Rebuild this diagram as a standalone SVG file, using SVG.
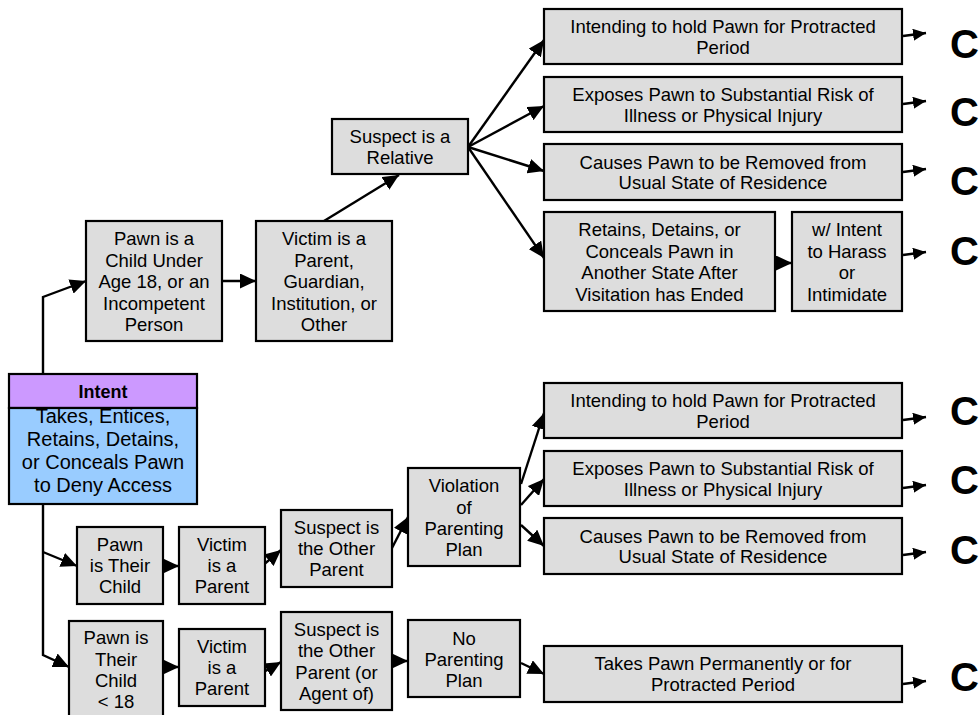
<svg xmlns="http://www.w3.org/2000/svg" width="980" height="715" viewBox="0 0 980 715">
  <style>
    .box { fill: #dddddd; stroke: #000; stroke-width: 2.2; }
    .hdr { fill: #cc99ff; stroke: #000; stroke-width: 2.2; }
    .body { fill: #99ccff; stroke: #000; stroke-width: 2.2; }
    text { font-family: "Liberation Sans", Arial, sans-serif; fill: #000; text-anchor: middle; }
    .t { font-size: 18.5px; }
    .tb { font-size: 20px; }
    .th { font-size: 18px; font-weight: bold; }
    .c { font-size: 40px; font-weight: bold; text-anchor: start; }
    .ln { fill: none; stroke: #000; stroke-width: 2.4; marker-end: url(#ah); }
    .lns { fill: none; stroke: #000; stroke-width: 2.4; marker-end: url(#ahs); }
  </style>
  <defs>
    <marker id="ah" markerUnits="userSpaceOnUse" markerWidth="16" markerHeight="15" refX="16" refY="7.5" orient="auto">
      <path d="M0,0 L16,7.5 L0,15 z" fill="#000"/>
    </marker>
    <marker id="ahs" markerUnits="userSpaceOnUse" markerWidth="13" markerHeight="12" refX="13" refY="6" orient="auto">
      <path d="M0,0 L13,6 L0,12 z" fill="#000"/>
    </marker>
  </defs>

  <!-- connectors -->
  <g id="connectors">
    <polyline class="ln" points="43,374 43,297 86,281"/>
    <line class="ln" x1="222" y1="281" x2="256" y2="281"/>
    <line class="ln" x1="324" y1="221" x2="399" y2="175"/>
    <line class="ln" x1="468" y1="147" x2="544" y2="40"/>
    <line class="ln" x1="468" y1="147" x2="544" y2="106"/>
    <line class="ln" x1="468" y1="147" x2="544" y2="171"/>
    <line class="ln" x1="468" y1="147" x2="544" y2="258"/>
    <line class="ln" x1="775" y1="263" x2="792" y2="263"/>

    <polyline class="ln" points="43,504 43,655 69,667"/>
    <line class="ln" x1="43" y1="552" x2="77" y2="566"/>
    <line class="ln" x1="163" y1="566" x2="179" y2="566"/>
    <line class="ln" x1="163" y1="667" x2="179" y2="667"/>
    <line class="ln" x1="262" y1="566" x2="281" y2="550"/>
    <line class="ln" x1="262" y1="673" x2="281" y2="662"/>
    <line class="ln" x1="392" y1="548" x2="408" y2="517"/>
    <line class="ln" x1="392" y1="661" x2="408" y2="661"/>
    <line class="ln" x1="521" y1="484" x2="544" y2="413"/>
    <line class="ln" x1="521" y1="505" x2="544" y2="479"/>
    <line class="ln" x1="521" y1="525" x2="544" y2="546"/>
    <line class="ln" x1="521" y1="663" x2="544" y2="674"/>

    <line class="lns" x1="903" y1="36" x2="926" y2="33"/>
    <line class="lns" x1="903" y1="104" x2="926" y2="101"/>
    <line class="lns" x1="903" y1="172" x2="926" y2="169"/>
    <line class="lns" x1="903" y1="255" x2="926" y2="252"/>
    <line class="lns" x1="903" y1="420" x2="926" y2="417"/>
    <line class="lns" x1="903" y1="488" x2="926" y2="485"/>
    <line class="lns" x1="903" y1="555" x2="926" y2="552"/>
    <line class="lns" x1="903" y1="684" x2="926" y2="681"/>
  </g>

  <!-- root node -->
  <g id="intent">
    <rect class="hdr" x="9" y="374" width="188" height="34"/>
    <rect class="body" x="9" y="408" width="188" height="96"/>
    <text class="th" x="103" y="398">Intent</text>
    <text class="tb" x="103" y="423">Takes, Entices,</text>
    <text class="tb" x="103" y="446">Retains, Detains,</text>
    <text class="tb" x="103" y="469">or Conceals Pawn</text>
    <text class="tb" x="103" y="492">to Deny Access</text>
  </g>

  <!-- upper branch -->
  <g id="pawn-child-incompetent">
    <rect class="box" x="86" y="221" width="136" height="120"/>
    <text class="t" x="154" y="245">Pawn is a</text>
    <text class="t" x="154" y="266.5">Child Under</text>
    <text class="t" x="154" y="288">Age 18, or an</text>
    <text class="t" x="154" y="309.5">Incompetent</text>
    <text class="t" x="154" y="331">Person</text>
  </g>
  <g id="victim-guardian">
    <rect class="box" x="256" y="221" width="136" height="120"/>
    <text class="t" x="324" y="245">Victim is a</text>
    <text class="t" x="324" y="266.5">Parent,</text>
    <text class="t" x="324" y="288">Guardian,</text>
    <text class="t" x="324" y="309.5">Institution, or</text>
    <text class="t" x="324" y="331">Other</text>
  </g>
  <g id="suspect-relative">
    <rect class="box" x="332" y="119" width="136" height="55"/>
    <text class="t" x="400" y="143">Suspect is a</text>
    <text class="t" x="400" y="164">Relative</text>
  </g>
  <g id="rel-protracted">
    <rect class="box" x="544" y="9" width="358" height="55"/>
    <text class="t" x="723" y="33">Intending to hold Pawn for Protracted</text>
    <text class="t" x="723" y="53.5">Period</text>
  </g>
  <g id="rel-risk">
    <rect class="box" x="544" y="77" width="358" height="55"/>
    <text class="t" x="723" y="101">Exposes Pawn to Substantial Risk of</text>
    <text class="t" x="723" y="121.5">Illness or Physical Injury</text>
  </g>
  <g id="rel-removed">
    <rect class="box" x="544" y="144" width="358" height="56"/>
    <text class="t" x="723" y="168.5">Causes Pawn to be Removed from</text>
    <text class="t" x="723" y="189">Usual State of Residence</text>
  </g>
  <g id="rel-retains">
    <rect class="box" x="544" y="212" width="231" height="99"/>
    <text class="t" x="659.5" y="236">Retains, Detains, or</text>
    <text class="t" x="659.5" y="257.5">Conceals Pawn in</text>
    <text class="t" x="659.5" y="279">Another State After</text>
    <text class="t" x="659.5" y="300.5">Visitation has Ended</text>
  </g>
  <g id="rel-harass">
    <rect class="box" x="792" y="212" width="110" height="99"/>
    <text class="t" x="847" y="236">w/ Intent</text>
    <text class="t" x="847" y="257.5">to Harass</text>
    <text class="t" x="847" y="279">or</text>
    <text class="t" x="847" y="300.5">Intimidate</text>
  </g>

  <!-- middle branch -->
  <g id="pawn-their-child">
    <rect class="box" x="77" y="527" width="86" height="77"/>
    <text class="t" x="120" y="551">Pawn</text>
    <text class="t" x="120" y="572">is Their</text>
    <text class="t" x="120" y="593">Child</text>
  </g>
  <g id="victim-parent-1">
    <rect class="box" x="179" y="527" width="86" height="77"/>
    <text class="t" x="222" y="551">Victim</text>
    <text class="t" x="222" y="572">is a</text>
    <text class="t" x="222" y="593">Parent</text>
  </g>
  <g id="suspect-other-parent">
    <rect class="box" x="281" y="510" width="111" height="77"/>
    <text class="t" x="336.5" y="534">Suspect is</text>
    <text class="t" x="336.5" y="555">the Other</text>
    <text class="t" x="336.5" y="576">Parent</text>
  </g>
  <g id="violation-plan">
    <rect class="box" x="408" y="468" width="112" height="98"/>
    <text class="t" x="464" y="492">Violation</text>
    <text class="t" x="464" y="513.5">of</text>
    <text class="t" x="464" y="535">Parenting</text>
    <text class="t" x="464" y="556">Plan</text>
  </g>
  <g id="par-protracted">
    <rect class="box" x="544" y="383" width="358" height="55"/>
    <text class="t" x="723" y="407">Intending to hold Pawn for Protracted</text>
    <text class="t" x="723" y="427.5">Period</text>
  </g>
  <g id="par-risk">
    <rect class="box" x="544" y="451" width="358" height="55"/>
    <text class="t" x="723" y="475">Exposes Pawn to Substantial Risk of</text>
    <text class="t" x="723" y="495.5">Illness or Physical Injury</text>
  </g>
  <g id="par-removed">
    <rect class="box" x="544" y="518" width="358" height="56"/>
    <text class="t" x="723" y="542.5">Causes Pawn to be Removed from</text>
    <text class="t" x="723" y="563">Usual State of Residence</text>
  </g>

  <!-- lower branch -->
  <g id="pawn-child-under-18">
    <rect class="box" x="69" y="621" width="94" height="110"/>
    <text class="t" x="116" y="644">Pawn is</text>
    <text class="t" x="116" y="666">Their</text>
    <text class="t" x="116" y="687">Child</text>
    <text class="t" x="116" y="708">&lt; 18</text>
  </g>
  <g id="victim-parent-2">
    <rect class="box" x="179" y="629" width="86" height="77"/>
    <text class="t" x="222" y="653">Victim</text>
    <text class="t" x="222" y="674">is a</text>
    <text class="t" x="222" y="695">Parent</text>
  </g>
  <g id="suspect-agent">
    <rect class="box" x="281" y="612" width="111" height="98"/>
    <text class="t" x="336.5" y="636">Suspect is</text>
    <text class="t" x="336.5" y="657">the Other</text>
    <text class="t" x="336.5" y="678.5">Parent (or</text>
    <text class="t" x="336.5" y="700">Agent of)</text>
  </g>
  <g id="no-plan">
    <rect class="box" x="408" y="620" width="112" height="77"/>
    <text class="t" x="464" y="645">No</text>
    <text class="t" x="464" y="666">Parenting</text>
    <text class="t" x="464" y="687">Plan</text>
  </g>
  <g id="takes-permanently">
    <rect class="box" x="544" y="646" width="358" height="56"/>
    <text class="t" x="723" y="670">Takes Pawn Permanently or for</text>
    <text class="t" x="723" y="690.5">Protracted Period</text>
  </g>

  <!-- outcome letters -->
  <g id="outcomes">
    <text class="c" x="950" y="58">C</text>
    <text class="c" x="950" y="126">C</text>
    <text class="c" x="950" y="195">C</text>
    <text class="c" x="950" y="265">C</text>
    <text class="c" x="950" y="425">C</text>
    <text class="c" x="950" y="494">C</text>
    <text class="c" x="950" y="564">C</text>
    <text class="c" x="950" y="691">C</text>
  </g>
</svg>
